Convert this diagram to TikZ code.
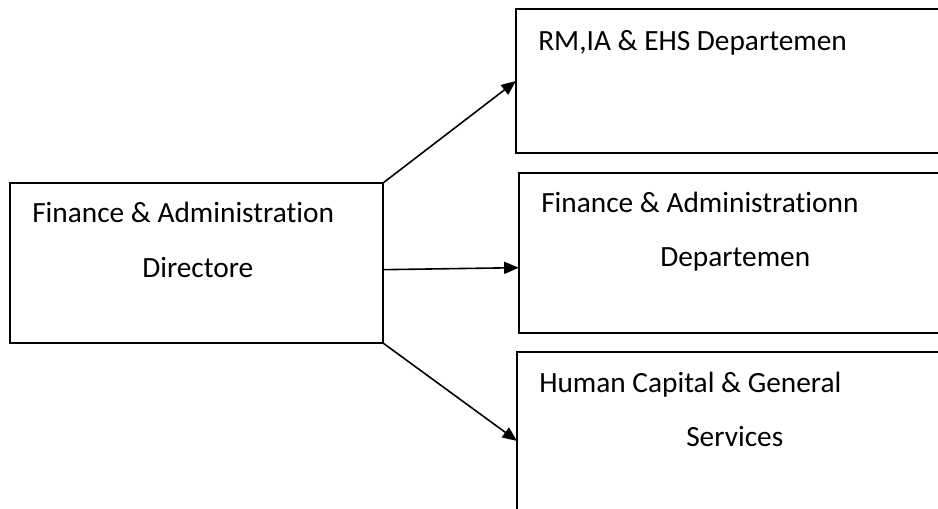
\documentclass[tikz,border=0pt]{standalone}
\usepackage{fontspec}
\setmainfont{Carlito}[Ligatures=NoCommon]
\usetikzlibrary{arrows.meta}
\tikzstyle{unitbox} = [rectangle, draw=black, line width=1.4pt, inner sep=0pt, outer sep=0pt]
\tikzstyle{label} = [anchor=base west, inner sep=0pt, font=\fontsize{22}{26}\selectfont]
\tikzstyle{arrow} = [line width=1.2pt, -{Triangle[length=11pt,width=9pt]}]

\begin{document}
\begin{tikzpicture}[x=0.75pt, y=-0.75pt]
\path [use as bounding box, clip] (0,0) rectangle (938,508);
\node (dir) [unitbox, minimum width=279.75pt, minimum height=120pt] at (196.5,263) {};
\node (rm) [unitbox, minimum width=363pt, minimum height=108pt] at (758,81) {};
\node (fin) [unitbox, minimum width=361pt, minimum height=120pt] at (759.5,253) {};
\node (hc) [unitbox, minimum width=362pt, minimum height=133.5pt] at (758.5,441) {};

\node (t1) [label] at (32,222) {Finance \& Administration};
\node (t2) [label] at (142,277) {Directore};
\node (t3) [label] at (538,50) {RM,IA \& EHS Departemen};
\node (t4) [label] at (541,212) {Finance \& Administrationn};
\node (t5) [label] at (660,266) {Departemen};
\node (t6) [label] at (539,392) {Human Capital \& General};
\node (t7) [label] at (686,446) {Services};

\draw [arrow] (dir.north east) -- (rm.west);
\draw [arrow] ([yshift=-5pt]dir.east) -- ([yshift=-11pt]fin.west);
\draw [arrow] (dir.south east) -- (hc.west);

\end{tikzpicture}
\end{document}
